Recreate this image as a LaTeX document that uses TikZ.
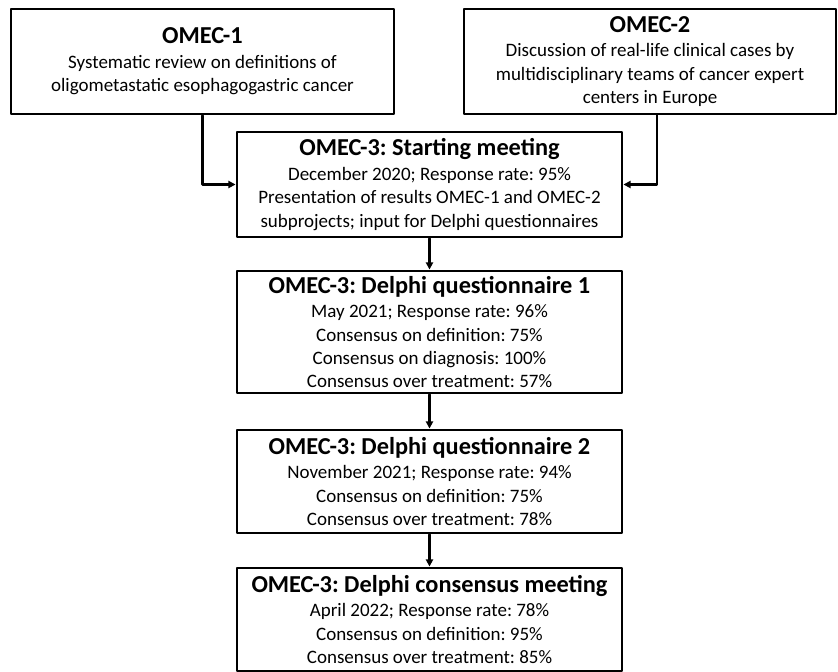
\documentclass[tikz,border=0pt]{standalone}
\usepackage{fontspec}
\setmainfont{Carlito}
\usetikzlibrary{arrows.meta}
\frenchspacing
\newcommand{\boxtitle}[1]{{\fontsize{17.3}{16.6}\selectfont\bfseries #1}\\[0.8pt]}
\begin{document}
\begin{tikzpicture}[x=0.025cm,y=-0.025cm,line cap=round,line join=round,
  stage/.style={draw,line width=2.1pt,inner sep=0pt,align=center,
    font=\fontsize{13.5}{16.6}\selectfont},
  flow/.style={line width=1.5pt,-{Triangle[length=5pt,width=5pt]}}]
  \useasboundingbox (0,0) rectangle (838,672);
  \node[stage,minimum width=383*0.025cm,minimum height=105*0.025cm] (omec1) at (202.5,61.5)
    {\boxtitle{OMEC-1}Systematic review on definitions of\\oligometastatic esophagogastric cancer};
  \node[stage,minimum width=372*0.025cm,minimum height=105*0.025cm] (omec2) at (650,61.5)
    {\boxtitle{OMEC-2}Discussion of real-life clinical cases by\\multidisciplinary teams of cancer expert\\centers in Europe};
  \node[stage,minimum width=385*0.025cm,minimum height=105*0.025cm] (start) at (429.5,184.5)
    {\boxtitle{OMEC-3: Starting meeting}December 2020; Response rate: 95\%\\Presentation of results OMEC-1 and OMEC-2\\subprojects; input for Delphi questionnaires};
  \node[stage,minimum width=385*0.025cm,minimum height=122*0.025cm] (dq1) at (429.5,332)
    {\boxtitle{OMEC-3: Delphi questionnaire 1}May 2021; Response rate: 96\%\\Consensus on definition: 75\%\\Consensus on diagnosis: 100\%\\Consensus over treatment: 57\%};
  \node[stage,minimum width=385*0.025cm,minimum height=103*0.025cm] (dq2) at (429.5,481.5)
    {\boxtitle{OMEC-3: Delphi questionnaire 2}November 2021; Response rate: 94\%\\Consensus on definition: 75\%\\Consensus over treatment: 78\%};
  \node[stage,minimum width=385*0.025cm,minimum height=103*0.025cm] (cons) at (429.5,619.5)
    {\boxtitle{OMEC-3: Delphi consensus meeting}April 2022; Response rate: 78\%\\Consensus on definition: 95\%\\Consensus over treatment: 85\%};
  \draw[flow] (omec1.south) |- (start.west);
  \draw[flow] ([xshift=7*0.025cm]omec2.south) |- (start.east);
  \draw[flow] (start) -- (dq1);
  \draw[flow] (dq1) -- (dq2);
  \draw[flow] (dq2) -- (cons);
\end{tikzpicture}
\end{document}
